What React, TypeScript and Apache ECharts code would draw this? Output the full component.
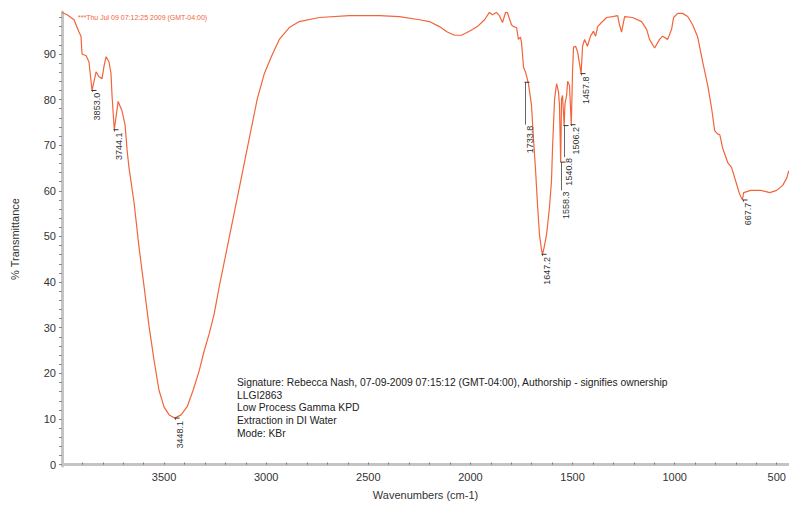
import React, { useEffect, useRef } from "react";
import * as echarts from "echarts";

const wavenumbers = [
  4000, 3975, 3941, 3917, 3907, 3902, 3882, 3868, 3853, 3833, 3819, 3804, 3794, 3784, 3770, 3760, 3755, 3744,
  3725, 3706, 3691, 3681, 3672, 3647, 3623, 3598, 3574, 3549, 3525, 3500, 3475, 3448, 3417, 3387, 3358, 3328,
  3304, 3279, 3255, 3230, 3181, 3132, 3083, 3044, 3010, 2975, 2936, 2887, 2838, 2740, 2593, 2446, 2348, 2250,
  2201, 2152, 2113, 2078, 2044, 2005, 1966, 1931, 1907, 1892, 1873, 1858, 1843, 1828, 1819, 1799, 1789, 1774,
  1765, 1755, 1750, 1740, 1736, 1730, 1716, 1701, 1691, 1681, 1672, 1662, 1652, 1647, 1640, 1627, 1613, 1603,
  1598, 1588, 1578, 1569, 1564, 1558, 1554, 1549, 1541, 1537, 1529, 1524, 1515, 1506, 1500, 1495, 1485, 1475,
  1458, 1451, 1441, 1427, 1412, 1397, 1387, 1377, 1358, 1333, 1304, 1279, 1270, 1260, 1245, 1206, 1162, 1137,
  1123, 1098, 1074, 1059, 1034, 1015, 1005, 985, 961, 936, 912, 887, 863, 838, 819, 804, 790, 779, 765, 740,
  721, 696, 682, 668, 662, 627, 578, 534, 500, 471, 451, 441,
];

const transmittance = [
  99.1, 98.6, 97.5, 94.8, 93.9, 90.0, 89.6, 88.3, 82.0, 86.1, 85.0, 84.6, 87.4, 89.4, 88.3, 85.7, 80.9, 73.4,
  79.6, 77.5, 74.4, 68.8, 65.1, 57.4, 47.7, 39.0, 30.4, 22.8, 16.3, 12.6, 10.9, 10.2, 10.9, 12.7, 16.3, 20.6,
  24.9, 28.7, 33.0, 39.0, 49.8, 60.6, 71.5, 80.1, 85.6, 89.4, 93.2, 95.8, 97.1, 98.0, 98.4, 98.4, 98.2, 97.5,
  97.1, 96.0, 94.8, 94.1, 94.1, 95.0, 96.0, 97.5, 99.1, 98.6, 99.1, 98.4, 96.9, 99.1, 99.1, 96.4, 96.0, 95.8,
  93.2, 93.7, 92.6, 87.2, 86.6, 86.0, 83.5, 78.8, 71.2, 64.5, 57.4, 50.5, 47.1, 46.1, 47.4, 50.5, 56.3, 62.2,
  69.3, 80.1, 83.5, 81.8, 78.8, 66.3, 80.1, 80.9, 74.3, 79.1, 80.9, 84.0, 83.1, 74.5, 86.1, 91.5, 91.7, 90.4,
  85.7, 91.7, 93.2, 91.7, 93.9, 95.0, 93.9, 96.0, 96.9, 98.0, 98.2, 98.4, 96.4, 94.8, 98.2, 98.0, 97.1, 95.4,
  93.2, 91.3, 93.2, 93.9, 93.2, 95.4, 98.0, 98.9, 98.9, 98.2, 96.4, 93.7, 88.3, 83.1, 78.1, 73.2, 72.5, 72.3, 69.4, 66.2,
  65.1, 61.4, 59.3, 58.0, 59.6, 60.1, 60.1, 59.6, 60.1, 61.2, 62.8, 64.4,
];

const peakWavenumbers = [3853.0, 3744.1, 3448.1, 1733.8, 1647.2, 1558.3, 1540.8, 1506.2, 1457.8, 667.7];
const peakMarkerValues = [82.0, 73.4, 10.2, 83.8, 46.1, 66.3, 74.3, 74.5, 85.7, 58.0];
const peakLabelValues = [81.7, 73.0, 9.8, 74.5, 45.7, 60.1, 67.4, 74.2, 85.3, 57.6];
const peakLabels = ["3853.0", "3744.1", "3448.1", "1733.8", "1647.2", "1558.3", "1540.8", "1506.2", "1457.8", "667.7"];

const xTickLabels = [3500, 3000, 2500, 2000, 1500, 1000, 500];
const xMinorTicks = [
  500, 600, 700, 800, 900, 1000, 1100, 1200, 1300, 1400, 1500, 1600, 1700, 1800, 1900, 2000, 2100, 2200, 2300,
  2400, 2500, 2600, 2700, 2800, 2900, 3000, 3100, 3200, 3300, 3400, 3500, 3600, 3700, 3800, 3900,
];
const yTickLabels = [0, 10, 20, 30, 40, 50, 60, 70, 80, 90];
const yMinorTicks = [
  0, 2, 4, 6, 8, 10, 12, 14, 16, 18, 20, 22, 24, 26, 28, 30, 32, 34, 36, 38, 40, 42, 44, 46, 48, 50, 52, 54, 56,
  58, 60, 62, 64, 66, 68, 70, 72, 74, 76, 78, 80, 82, 84, 86, 88, 90, 92, 94, 96, 98,
];

const headerText = "***Thu Jul 09 07:12:25 2009 (GMT-04:00)";
const noteLines = [
  "Signature: Rebecca Nash, 07-09-2009 07:15:12 (GMT-04:00), Authorship - signifies ownership",
  "LLGI2863",
  "Low Process Gamma KPD",
  "Extraction in DI Water",
  "Mode: KBr",
];

const FONT = "'Liberation Sans', Arial, sans-serif";
const CURVE = "#f2643a";

export default function App() {
  const ref = useRef<HTMLDivElement>(null);

  useEffect(() => {
    if (!ref.current) return;
    const chart = echarts.init(ref.current, undefined, { renderer: "svg" });
    const curveData = wavenumbers.map((w, i) => [w, transmittance[i]]);
    const peakData = peakWavenumbers.map((w, i) => [w, peakMarkerValues[i], peakLabelValues[i]]);

    chart.setOption({
      animation: false,
      backgroundColor: "#ffffff",
      textStyle: { fontFamily: FONT },
      grid: { left: 62, right: 0, top: 12, bottom: 30 },
      xAxis: {
        type: "value",
        inverse: true,
        min: 440,
        max: 4000,
        name: "Wavenumbers (cm-1)",
        nameLocation: "middle",
        nameGap: 23,
        nameTextStyle: { fontSize: 11, color: "#333", fontFamily: FONT },
        axisLine: { show: true, lineStyle: { color: "#c4c4c4", width: 3 } },
        axisTick: {
          show: true,
          customValues: xMinorTicks,
          length: 2,
          inside: true,
          lineStyle: { color: "#777", width: 1 },
        },
        axisLabel: {
          customValues: xTickLabels,
          formatter: (v: number) => String(v),
          fontSize: 11,
          color: "#333",
          margin: 5,
          fontFamily: FONT,
        },
        splitLine: { show: false },
      },
      yAxis: {
        type: "value",
        min: -0.3,
        max: 99.2,
        name: "% Transmittance",
        nameLocation: "middle",
        nameGap: 42,
        nameTextStyle: { fontSize: 11, color: "#333", fontFamily: FONT },
        axisLine: { show: true, lineStyle: { color: "#c4c4c4", width: 3 } },
        axisTick: {
          show: true,
          customValues: yMinorTicks,
          length: 3,
          lineStyle: { color: "#888", width: 1 },
        },
        axisLabel: {
          customValues: yTickLabels,
          formatter: (v: number) => String(v),
          fontSize: 11,
          color: "#333",
          margin: 6,
          fontFamily: FONT,
        },
        splitLine: { show: false },
      },
      series: [
        {
          type: "line",
          data: curveData,
          showSymbol: false,
          symbol: "none",
          lineStyle: { color: CURVE, width: 1.2 },
          z: 3,
        },
        {
          type: "custom",
          data: peakData,
          z: 4,
          renderItem: (params: any, api: any) => {
            const w = api.value(0);
            const top = api.coord([w, api.value(1)]);
            const bottom = api.coord([w, api.value(2)]);
            const x = Math.round(top[0]) + 0.5;
            return {
              type: "group",
              children: [
                {
                  type: "line",
                  shape: { x1: x, y1: top[1], x2: x, y2: bottom[1] },
                  style: { stroke: "#666", lineWidth: 1 },
                },
                {
                  type: "line",
                  shape: { x1: x - 1, y1: top[1], x2: x + 4, y2: top[1] },
                  style: { stroke: "#333", lineWidth: 1 },
                },
                {
                  type: "text",
                  x: x,
                  y: bottom[1] + 1,
                  rotation: Math.PI / 2,
                  style: {
                    text: peakLabels[params.dataIndex],
                    fontSize: 9,
                    fontFamily: FONT,
                    fill: "#333",
                    align: "right",
                    verticalAlign: "top",
                  },
                },
              ],
            };
          },
        },
      ],
      graphic: [
        {
          type: "text",
          left: 78,
          top: 14,
          style: {
            text: headerText,
            fontSize: 7,
            fontFamily: FONT,
            fill: CURVE,
          },
        },
        {
          type: "text",
          left: 237,
          top: 376,
          style: {
            text: noteLines.join("\n"),
            fontSize: 10.3,
            lineHeight: 12.7,
            fontFamily: FONT,
            fill: "#222",
          },
        },
      ],
    });

    return () => chart.dispose();
  }, []);

  return (
    <div
      ref={ref}
      style={{ position: "fixed", left: 0, top: 0, width: 789, height: 505, background: "#fff" }}
    />
  );
}
